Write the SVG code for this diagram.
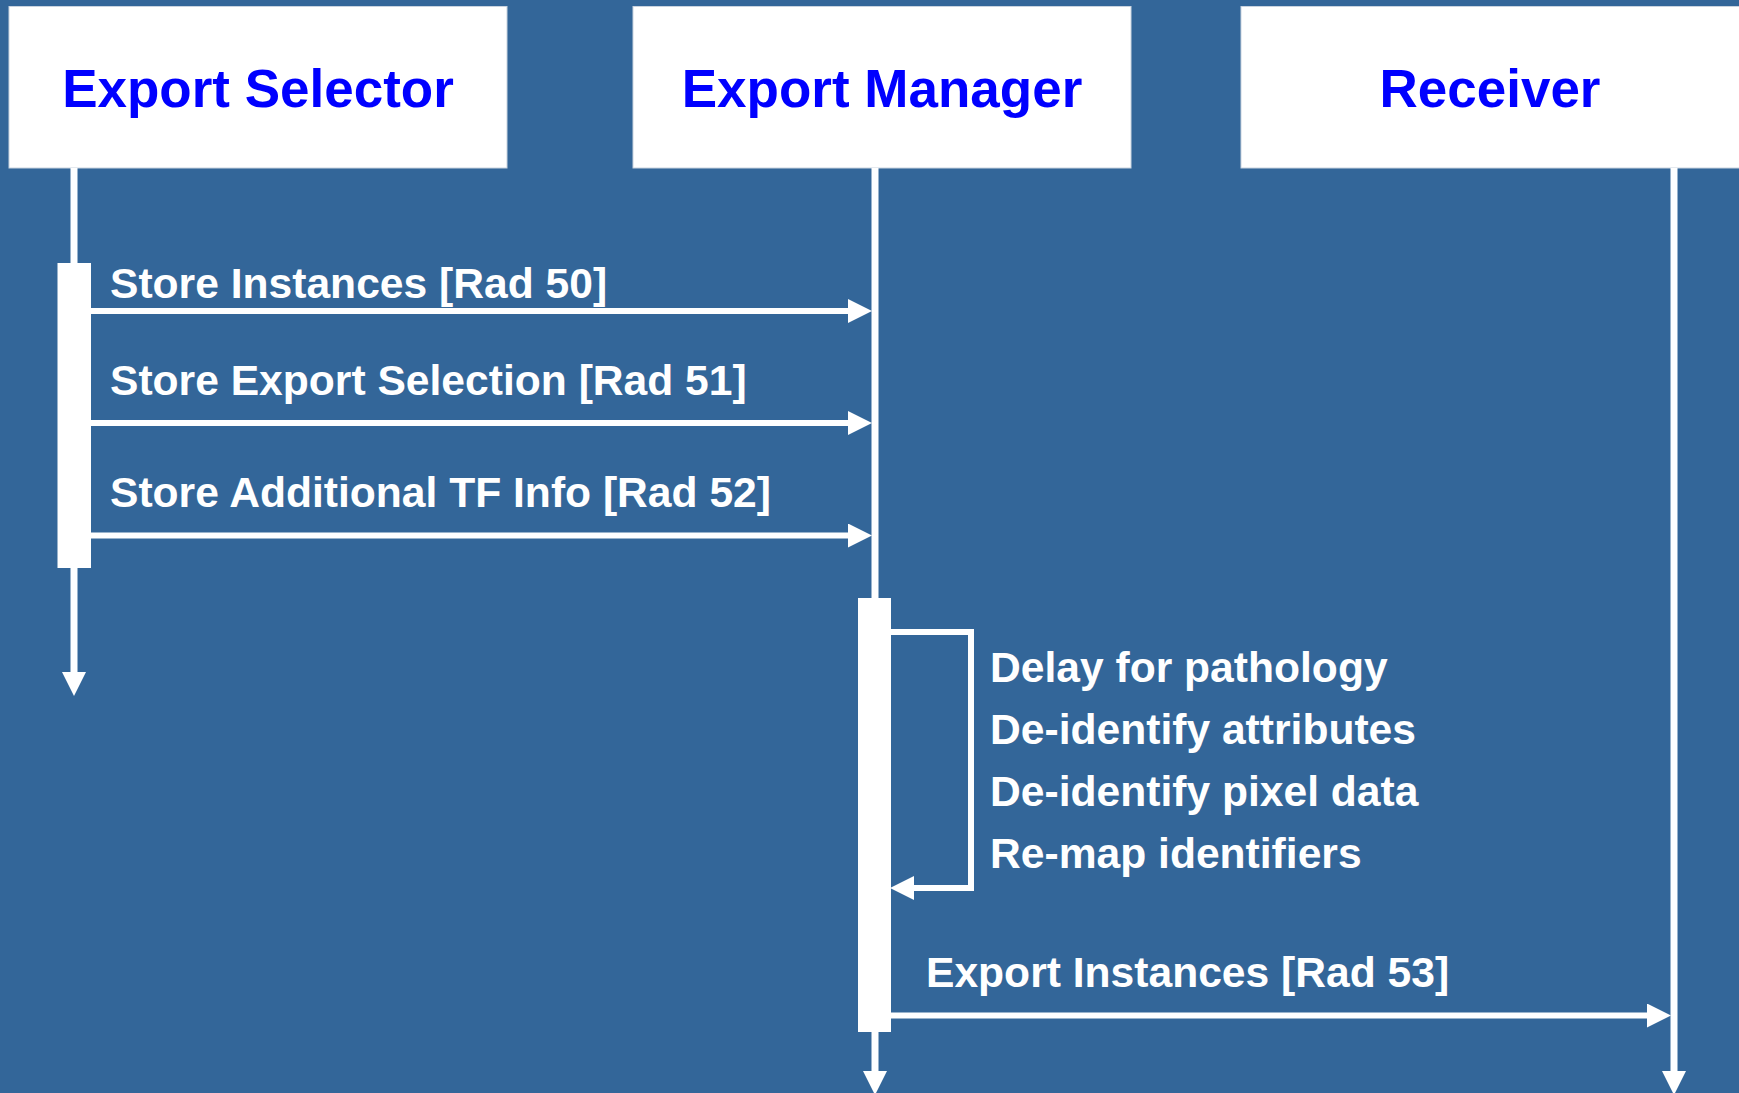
<svg xmlns="http://www.w3.org/2000/svg" width="1739" height="1093" viewBox="0 0 1739 1093">
<style>
.hdr{fill:#ffffff;stroke:#c9d3df;stroke-width:1}
.ht{font-family:"Liberation Sans",Arial,sans-serif;font-weight:bold;font-size:53px;fill:#0000ff;text-anchor:middle}
.lbl{font-family:"Liberation Sans",Arial,sans-serif;font-weight:bold;font-size:42.6px;fill:#ffffff}
.ll{stroke:#ffffff;stroke-width:7;fill:none}
.msg{stroke:#ffffff;stroke-width:6;fill:none}
.bar{fill:#ffffff}
</style>
<defs>
<marker id="ah" markerUnits="userSpaceOnUse" markerWidth="24" markerHeight="24" viewBox="0 0 23 23" refX="0" refY="11.5" orient="auto">
<path d="M0,0 L23,11.5 L0,23 z" fill="#ffffff"/>
</marker>
</defs>
<rect x="0" y="0" width="1739" height="1093" fill="#336699"/>
<g id="node-export-selector">
<rect class="hdr" x="9" y="6.5" width="498" height="161.5"/>
<text class="ht" x="258" y="107">Export Selector</text>
</g>
<g id="node-export-manager">
<rect class="hdr" x="633" y="6.5" width="498" height="161.5"/>
<text class="ht" x="882" y="107">Export Manager</text>
</g>
<g id="node-receiver">
<rect class="hdr" x="1241" y="6.5" width="520" height="161.5"/>
<text class="ht" x="1490" y="107">Receiver</text>
</g>
<g id="connectors">
<line class="ll" x1="74" y1="168" x2="74" y2="672" marker-end="url(#ah)"/>
<line class="ll" x1="875" y1="168" x2="875" y2="1071" marker-end="url(#ah)"/>
<line class="ll" x1="1674" y1="168" x2="1674" y2="1071" marker-end="url(#ah)"/>
<rect class="bar" x="57.5" y="263" width="33.5" height="305"/>
<rect class="bar" x="858" y="598" width="33" height="434"/>
<line class="msg" x1="91" y1="311" x2="848" y2="311" marker-end="url(#ah)"/>
<line class="msg" x1="91" y1="423" x2="848" y2="423" marker-end="url(#ah)"/>
<line class="msg" x1="91" y1="535.5" x2="848" y2="535.5" marker-end="url(#ah)"/>
<path class="msg" d="M891,632 H971 V888 H914" marker-end="url(#ah)"/>
<line class="msg" x1="891" y1="1015.5" x2="1647" y2="1015.5" marker-end="url(#ah)"/>
</g>
<g id="labels">
<text class="lbl" x="110" y="298">Store Instances [Rad 50]</text>
<text class="lbl" x="110" y="395">Store Export Selection [Rad 51]</text>
<text class="lbl" x="110" y="507">Store Additional TF Info [Rad 52]</text>
<text class="lbl" x="990" y="682">Delay for pathology</text>
<text class="lbl" x="990" y="744">De-identify attributes</text>
<text class="lbl" x="990" y="806">De-identify pixel data</text>
<text class="lbl" x="990" y="868">Re-map identifiers</text>
<text class="lbl" x="926" y="987">Export Instances [Rad 53]</text>
</g>
</svg>
